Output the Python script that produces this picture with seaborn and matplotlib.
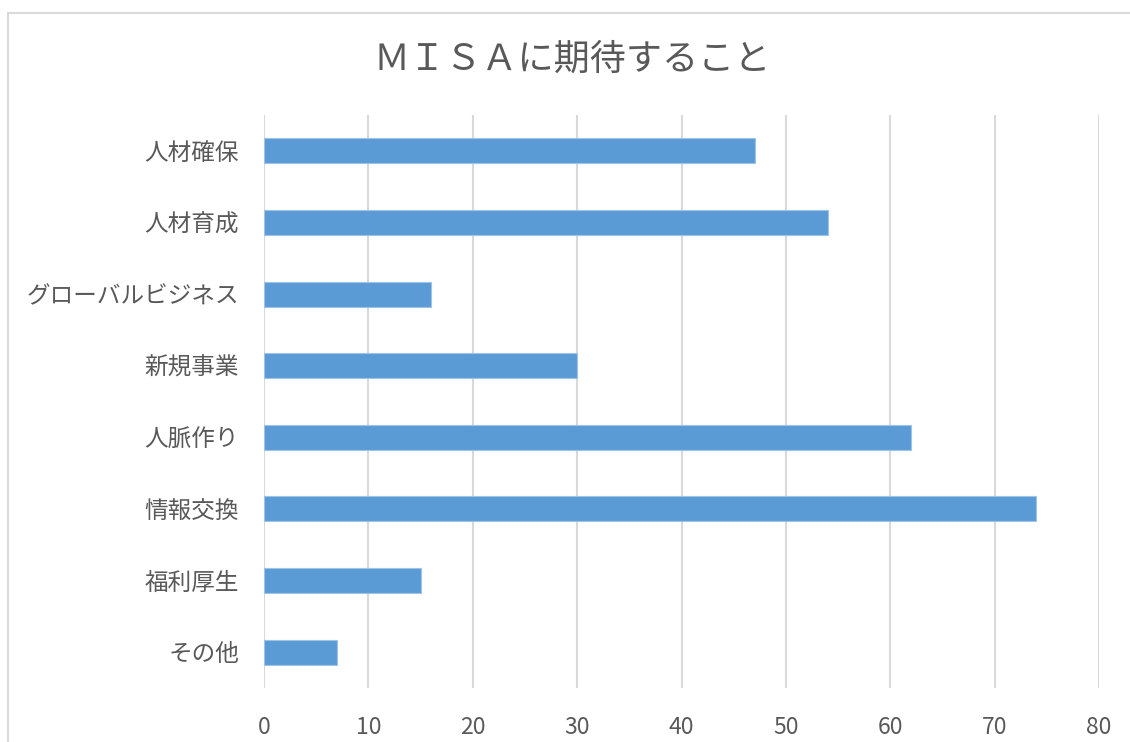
import matplotlib
matplotlib.use("Agg")
import matplotlib.pyplot as plt
import seaborn as sns
import pandas as pd

# Datos del grafico
categorias = ["人材確保", "人材育成", "グローバルビジネス", "新規事業",
              "人脈作り", "情報交換", "福利厚生", "その他"]
valores = [47, 54, 16, 30, 62, 74, 15, 7]
ticks_x = [0, 10, 20, 30, 40, 50, 60, 70, 80]
titulo = "ＭＩＳＡに期待すること"

df = pd.DataFrame({"categoria": categorias, "valor": valores})

sns.set_theme(style="white")
plt.rcParams["font.family"] = ["Noto Sans CJK JP", "DejaVu Sans"]

gris_texto = "#595959"

fig = plt.figure(figsize=(11.3, 7.42), dpi=100)
ax = fig.add_axes([264 / 1130, 1 - 688 / 742, (1099 - 264) / 1130, (688 - 115) / 742])

sns.barplot(data=df, x="valor", y="categoria", orient="h", color="#5B9BD5",
            width=0.35, saturation=1, edgecolor="#9DC3E6", linewidth=0.8, ax=ax, zorder=3)

ax.set_xlim(0, 80)
ax.set_ylim(len(categorias) - 0.5, -0.5)
ax.set_xticks(ticks_x)
ax.set_xticklabels([str(t) for t in ticks_x])
ax.xaxis.grid(True, color="#D9D9D9", linewidth=1.5, zorder=0)
ax.yaxis.grid(False)
for lado in ax.spines.values():
    lado.set_visible(False)
ax.tick_params(axis="x", length=0, pad=20, labelsize=16.5, colors=gris_texto)
ax.tick_params(axis="y", length=0, pad=18, labelsize=17, colors=gris_texto)
ax.set_xlabel("")
ax.set_ylabel("")

fig.text(572 / 1130, 1 - 60 / 742, titulo, ha="center", va="center",
         fontsize=26, color=gris_texto)

# Marco del area del grafico
marco = plt.Rectangle((8 / 1130, -0.05), 1.1, 1 - 13 / 742 + 0.05, transform=fig.transFigure,
                      fill=False, edgecolor="#D9D9D9", linewidth=1.5)
fig.patches.append(marco)

fig.savefig("out.png", dpi=100)
